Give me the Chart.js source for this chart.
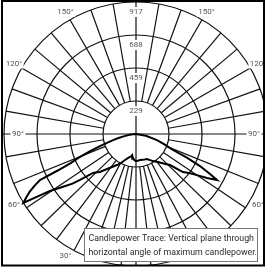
<!DOCTYPE html>
<html><head><meta charset="utf-8">
<script src="https://cdn.jsdelivr.net/npm/chart.js@4/dist/chart.umd.min.js"></script>
<style>html,body{margin:0;padding:0;background:#fff}canvas{display:block}</style>
</head><body>
<canvas id="c" width="266" height="267"></canvas>
<script>
// ---- data (vertical angle from nadir, degrees; negative = left side) ----
const traceAngles = [-90,-85,-80,-77,-75,-73,-71.5,-69.5,-67.5,-66,-65,-64.4,-63,-61.5,-60,-58.5,-57.5,-56.5,-54,-52,-50.6,-47.8,-45.5,-43.5,-38,-31.5,-27,-22.9,-18,-14.6,-12,-10.3,-8.5,-7,-4,-2,0,4,8.7,15,23.7,32,38,43,47.6,51,54,56,58.2,60.4,61.5,63.4,65,66.6,70,74,80,90];
const traceCandela = [0,35,75,125,165,215,264,340,430,500,600,740,790,840,880,917,800,717,620,560,503,403,380,364,300,253,225,196,175,165,158,150,172,168,180,185,188,186,183,186,190,222,247,280,320,420,465,511,580,647,590,497,390,280,210,152,70,0];
const ringValues = [229.25, 458.5, 687.75, 917];
const ringLabels = ['229','459','688','917'];
const angleLabelValues = [-150,-120,-90,-60,-30,30,60,90,120,150];
const upperSpokes = [100,110,120,130,140,150,160,170];
const lowerSpokes = [6.5,13,20,28,37,46,56,68,80];
const noteLines = ['Candlepower Trace: Vertical plane through','horizontal angle of maximum candlepower.'];

const K = 917/132;
const rad = d => d*Math.PI/180;
const points = traceAngles.map((a,i)=>({x: traceCandela[i]*Math.sin(rad(a)), y: -traceCandela[i]*Math.cos(rad(a))}));

const FONT = '8px Roboto, "DejaVu Sans", sans-serif';
const NOTE_FONT = '8.8px Roboto, "DejaVu Sans", sans-serif';

const polarGrid = {
  id:'polarGrid',
  beforeDatasetsDraw(chart){
    const {ctx, scales:{x,y}} = chart;
    const cx = x.getPixelForValue(0), cy = y.getPixelForValue(0);
    const rp = v => x.getPixelForValue(v) - cx;
    ctx.save();
    ctx.beginPath(); ctx.rect(2,1,262,264); ctx.clip();
    ctx.strokeStyle = '#111'; ctx.lineWidth = 1.2;
    ringValues.forEach(v=>{ ctx.beginPath(); ctx.arc(cx,cy,rp(v),0,Math.PI*2); ctx.stroke(); });
    const r0 = rp(ringValues[0]), r1 = rp(ringValues[ringValues.length-1]);
    const spokes = [];
    upperSpokes.concat(lowerSpokes).forEach(a=>{spokes.push(a); spokes.push(-a);});
    spokes.forEach(a=>{
      const s=Math.sin(rad(a)), c=Math.cos(rad(a));
      ctx.beginPath(); ctx.moveTo(cx+r0*s, cy+r0*c); ctx.lineTo(cx+r1*s, cy+r1*c); ctx.stroke();
    });
    ctx.beginPath(); ctx.moveTo(0,cy); ctx.lineTo(266,cy); ctx.moveTo(cx,0); ctx.lineTo(cx,267); ctx.stroke();
    ctx.font = FONT; ctx.textAlign='center'; ctx.textBaseline='middle';
    const lab = (t,px,py)=>{
      const w = ctx.measureText(t).width;
      ctx.fillStyle='#fff'; ctx.fillRect(px-w/2-1.5, py-5, w+3, 10);
      ctx.fillStyle='#555'; ctx.fillText(t,px,py);
    };
    ringValues.forEach((v,i)=> lab(ringLabels[i], cx, cy-rp(v)+10));
    angleLabelValues.forEach(a=>{
      const R = Math.abs(a)===90 ? 118 : 141;
      lab(Math.abs(a)+'°', cx+R*Math.sin(rad(a)), cy+R*Math.cos(rad(a)));
    });
    ctx.restore();
  },
  afterDraw(chart){
    const ctx = chart.ctx;
    ctx.save();
    ctx.fillStyle='#fff'; ctx.fillRect(84.5,228.5,173,33);
    ctx.strokeStyle='#777'; ctx.lineWidth=1; ctx.strokeRect(84.5,228.5,173,33);
    ctx.fillStyle='#2a2a2a'; ctx.font = NOTE_FONT; ctx.textAlign='left'; ctx.textBaseline='middle';
    ctx.fillText(noteLines[0], 88.5, 238.5);
    ctx.fillText(noteLines[1], 88.5, 252.5);
    ctx.strokeStyle='#000'; ctx.lineWidth=2; ctx.strokeRect(2,1,262,264.5);
    ctx.restore();
  }
};

new Chart(document.getElementById('c'), {
  type:'scatter',
  data:{datasets:[{data:points, showLine:true, borderColor:'#000', borderWidth:2, pointRadius:0, tension:0, fill:false}]},
  options:{
    responsive:false, animation:false, devicePixelRatio:1,
    layout:{padding:0},
    plugins:{legend:{display:false}, tooltip:{enabled:false}},
    scales:{
      x:{type:'linear', display:false, min:-136*K, max:130*K},
      y:{type:'linear', display:false, min:-133*K, max:134*K}
    }
  },
  plugins:[polarGrid]
});
</script>
</body></html>
